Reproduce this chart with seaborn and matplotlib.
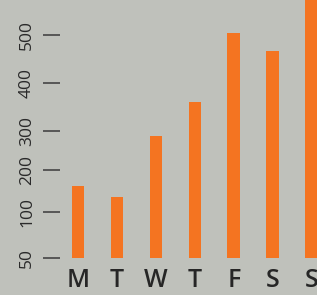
import numpy as np
import pandas as pd
import matplotlib
matplotlib.use('Agg')
import matplotlib.pyplot as plt
import seaborn as sns

# data
days = ['M', 'T', 'W', 'T', 'F', 'S', 'S']
values = [162, 136, 287, 360, 505, 467, 580]
y_ticks = [50, 100, 200, 300, 400, 500]

# the axis in the picture is not linear: ticks sit at these heights (px above base)
tick_px = [0, 46, 88, 127, 175, 223]


def fwd(v):
    v = np.asarray(v, dtype=float)
    out = np.interp(v, y_ticks, tick_px)
    out = np.where(v > y_ticks[-1], tick_px[-1] + (v - y_ticks[-1]) * 0.48, out)
    out = np.where(v < y_ticks[0], (v - y_ticks[0]) * 0.92, out)
    return out


def inv(p):
    p = np.asarray(p, dtype=float)
    out = np.interp(p, tick_px, y_ticks)
    out = np.where(p > tick_px[-1], y_ticks[-1] + (p - tick_px[-1]) / 0.48, out)
    out = np.where(p < tick_px[0], y_ticks[0] + p / 0.92, out)
    return out


bg = '#bfc1bb'
orange = '#f47421'
sns.set_style('white')
plt.rcParams['font.family'] = ['Open Sans', 'DejaVu Sans']

df = pd.DataFrame({'pos': np.arange(len(days)), 'value': values})

fig = plt.figure(figsize=(3.17, 2.95), dpi=100, facecolor=bg)
ax = fig.add_axes([60 / 317, 37 / 295, 1 - 60 / 317, 258 / 295])
ax.set_facecolor(bg)

sns.barplot(data=df, x='pos', y='value', color=orange, width=0.33,
            saturation=1, linewidth=0, ax=ax)

ax.set_yscale('function', functions=(fwd, inv))
ax.set_ylim(50, 573)
ax.set_xlim(-0.46, 6.13)
ax.set_yticks(y_ticks)
ax.set_yticklabels([str(t) for t in y_ticks], rotation=90, va='center',
                   fontsize=12.5, fontweight='medium', color='#2a2a2a')
ax.minorticks_off()
ax.set_xticks(range(len(days)))
ax.set_xticklabels(days, fontsize=18, fontweight='semibold', color='#262626')
ax.tick_params(axis='y', length=12, width=1.1, color='#3a3a3a', pad=6,
               direction='out', left=True)
ax.tick_params(axis='x', length=0, pad=7)
ax.set_xlabel('')
ax.set_ylabel('')
for s in ax.spines.values():
    s.set_visible(False)

fig.savefig('out.png', dpi=100, facecolor=bg)
